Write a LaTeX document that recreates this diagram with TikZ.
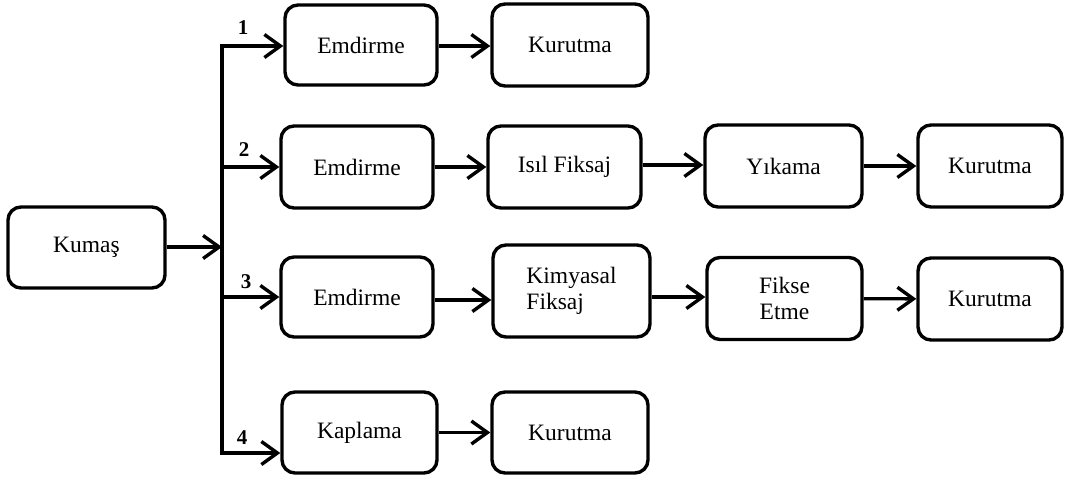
\documentclass[tikz,border=0pt]{standalone}
\usepackage{fontspec}
\setmainfont{Liberation Serif}
\usetikzlibrary{arrows.meta}
\begin{document}
\begin{tikzpicture}[x=1pt,y=-1pt,
  box/.style={draw,line width=3.4pt,rounded corners=13pt,align=center,inner sep=0pt,
    font=\fontsize{23.5}{26}\selectfont},
  conn/.style={line width=3.4pt,-{Straight Barb[length=16pt,width=23pt,line width=3.4pt]}},
  trunk/.style={line width=3.4pt},
  num/.style={font=\bfseries\fontsize{21}{23}\selectfont,inner sep=0pt}]
\useasboundingbox (0,0) rectangle (1067,477);
% boxes
\node[box,minimum width=157pt,minimum height=81pt] (kumas) at (86.5,247.5) {Kumaş};
\node[box,minimum width=152pt,minimum height=80pt] (e1) at (361,45) {Emdirme};
\node[box,minimum width=156pt,minimum height=82pt] (k1) at (570,45) {Kurutma};
\node[box,minimum width=152pt,minimum height=82pt] (e2) at (357,167) {Emdirme};
\node[box,minimum width=153pt,minimum height=82pt] (i2) at (564.5,167) {Isıl Fiksaj};
\node[box,minimum width=157pt,minimum height=82pt] (y2) at (783.5,166) {Yıkama};
\node[box,minimum width=144pt,minimum height=82pt] (k2) at (990,166) {Kurutma};
\node[box,minimum width=152pt,minimum height=80pt] (e3) at (357,297) {Emdirme};
\node[box,minimum width=157pt,minimum height=92pt,align=left] (km3) at (571.5,291) {Kimyasal\\Fiksaj};
\node[box,minimum width=155pt,minimum height=82pt] (f3) at (784.5,298.5) {Fikse\\Etme};
\node[box,minimum width=144pt,minimum height=82pt] (k3) at (990,299) {Kurutma};
\node[box,minimum width=155pt,minimum height=81pt] (kap4) at (359.5,432.5) {Kaplama};
\node[box,minimum width=156pt,minimum height=81pt] (k4) at (570,432.5) {Kurutma};
% trunk
\coordinate (t0) at (222,247);
\coordinate (t1) at (222,46);
\coordinate (t2) at (222,167);
\coordinate (t3) at (222,297);
\coordinate (t4) at (222,453);
\draw[trunk] (t1) -- (t4);
\draw[conn] (kumas.east |- t0) -- (t0);
\draw[conn] ([xshift=-1.7pt]t1) -- (e1.west |- t1);
\draw[conn] (t2) -- (e2.west |- t2);
\draw[conn] (t3) -- (e3.west |- t3);
\draw[conn] ([xshift=-1.7pt]t4) -- (kap4.west |- t4);
% labels
\node[num] (n1) at (243,28) {1};
\node[num] (n2) at (244,150) {2};
\node[num] (n3) at (246,282) {3};
\node[num] (n4) at (242,438) {4};
% row connectors
\draw[conn] (e1.east |- 0,46) -- (k1.west |- 0,46);
\draw[conn] (e2) -- (i2);
\draw[conn] (i2.east |- 0,165) -- (y2.west |- 0,165);
\draw[conn] (y2) -- (k2);
\draw[conn] (e3.east |- 0,300) -- (km3.west |- 0,300);
\draw[conn] (km3.east |- 0,297) -- (f3.west |- 0,297);
\draw[conn] (f3) -- (k3);
\draw[conn] (kap4) -- (k4);
\end{tikzpicture}
\end{document}
